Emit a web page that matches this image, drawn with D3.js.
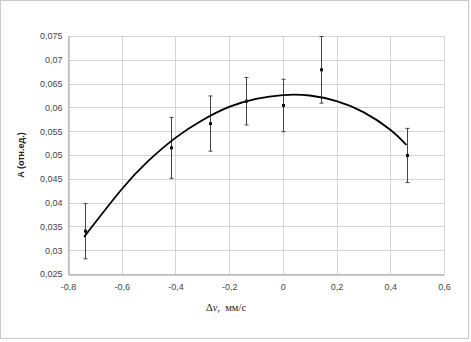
<!DOCTYPE html>
<html>
<head>
<meta charset="utf-8">
<script src="https://cdn.jsdelivr.net/npm/d3@7"></script>
<style>
  body { margin: 0; background: #fff; }
  svg { display: block; }
</style>
</head>
<body>
<div id="chart"></div>
<script>
"use strict"

// measured points
const dv = [-0.737, -0.417, -0.273, -0.137, 0.0, 0.142, 0.463];
const amp = [0.0340, 0.0515, 0.0566, 0.0613, 0.0604, 0.0679, 0.0499];
const err = [0.0058, 0.0064, 0.0058, 0.0050, 0.0055, 0.0070, 0.0057];

// trend line
const fitX = [-0.74, -0.6, -0.5, -0.4, -0.3, -0.2, -0.1, 0.0, 0.1, 0.2, 0.3, 0.4, 0.46];
const fitY = [0.0328, 0.0428, 0.0488, 0.0536, 0.0573, 0.0601, 0.0618, 0.0626, 0.0625, 0.0613, 0.0590, 0.0553, 0.0521];

const xTicks = [-0.8, -0.6, -0.4, -0.2, 0, 0.2, 0.4, 0.6];
const yTicks = [0.025, 0.03, 0.035, 0.04, 0.045, 0.05, 0.055, 0.06, 0.065, 0.07, 0.075];

const W = 471, H = 342;
const plotL = 68, plotR = 444, plotT = 36, plotB = 274;

const svg = d3.select("#chart").append("svg")
    .attr("width", W)
    .attr("height", H);

// outer chart frame
svg.append("rect")
    .attr("x", 0.5).attr("y", 0.5)
    .attr("width", 468).attr("height", 338)
    .attr("fill", "#fff")
    .attr("stroke", "#c8c8c8");

const x = d3.scaleLinear().domain([-0.8, 0.6]).range([plotL, plotR]);
const y = d3.scaleLinear().domain([0.025, 0.075]).range([plotB, plotT]);

const fmt = d => String(+d.toFixed(3)).replace(".", ",");

// grid
svg.append("g").selectAll("line").data(yTicks).enter().append("line")
    .attr("x1", plotL).attr("x2", plotR)
    .attr("y1", d => Math.round(y(d)) + 0.5).attr("y2", d => Math.round(y(d)) + 0.5)
    .attr("stroke", "#d4d4d4");
svg.append("g").selectAll("line").data(xTicks).enter().append("line")
    .attr("y1", plotT).attr("y2", plotB)
    .attr("x1", d => Math.round(x(d)) + 0.5).attr("x2", d => Math.round(x(d)) + 0.5)
    .attr("stroke", "#d4d4d4");

// axes
const xAxis = d3.axisBottom(x).tickValues(xTicks).tickSize(0).tickPadding(9).tickFormat(fmt);
const yAxis = d3.axisLeft(y).tickValues(yTicks).tickSize(0).tickPadding(6).tickFormat(fmt);

const gx = svg.append("g").attr("transform", `translate(0,${plotB + 0.5})`).call(xAxis);
const gy = svg.append("g").attr("transform", `translate(${plotL + 0.5},0)`).call(yAxis);
[gx, gy].forEach(g => {
    g.select(".domain").attr("stroke", "#a0a0a0");
    g.selectAll("text")
        .attr("font-family", "Liberation Sans, Arial, sans-serif")
        .attr("font-size", 9)
        .attr("fill", "#444");
});

// error bars
const eb = svg.append("g").attr("stroke", "#444").attr("stroke-width", 1);
dv.forEach((d, i) => {
    const cx = Math.round(x(d)) + 0.5;
    eb.append("line").attr("x1", cx).attr("x2", cx)
        .attr("y1", y(amp[i] - err[i])).attr("y2", y(amp[i] + err[i]));
    [amp[i] - err[i], amp[i] + err[i]].forEach(v => {
        eb.append("line").attr("x1", cx - 2).attr("x2", cx + 2)
            .attr("y1", y(v)).attr("y2", y(v));
    });
});

// trend line
const line = d3.line()
    .x((d, i) => x(fitX[i]))
    .y(d => y(d))
    .curve(d3.curveNatural);
svg.append("path")
    .datum(fitY)
    .attr("d", line)
    .attr("fill", "none")
    .attr("stroke", "#000")
    .attr("stroke-width", 1.8);

// markers
svg.append("g").selectAll("rect").data(dv).enter().append("rect")
    .attr("x", d => Math.round(x(d)) - 1)
    .attr("y", (d, i) => y(amp[i]) - 1.5)
    .attr("width", 3).attr("height", 3)
    .attr("fill", "#111");

// axis titles
svg.append("text")
    .attr("transform", `translate(24,${(plotT + plotB) / 2}) rotate(-90)`)
    .attr("text-anchor", "middle")
    .attr("font-family", "Liberation Sans, Arial, sans-serif")
    .attr("font-size", 9)
    .attr("font-weight", "bold")
    .attr("fill", "#222")
    .text("A (отн.ед.)");

const xt = svg.append("text")
    .attr("x", 226).attr("y", 311)
    .attr("text-anchor", "middle")
    .attr("font-family", "Liberation Serif, Times New Roman, serif")
    .attr("font-size", 10.5)
    .attr("fill", "#222");
xt.append("tspan").text("Δ");
xt.append("tspan").attr("font-style", "italic").text("v");
xt.append("tspan").text(",\u00a0\u00a0мм/с");
</script>
</body>
</html>
